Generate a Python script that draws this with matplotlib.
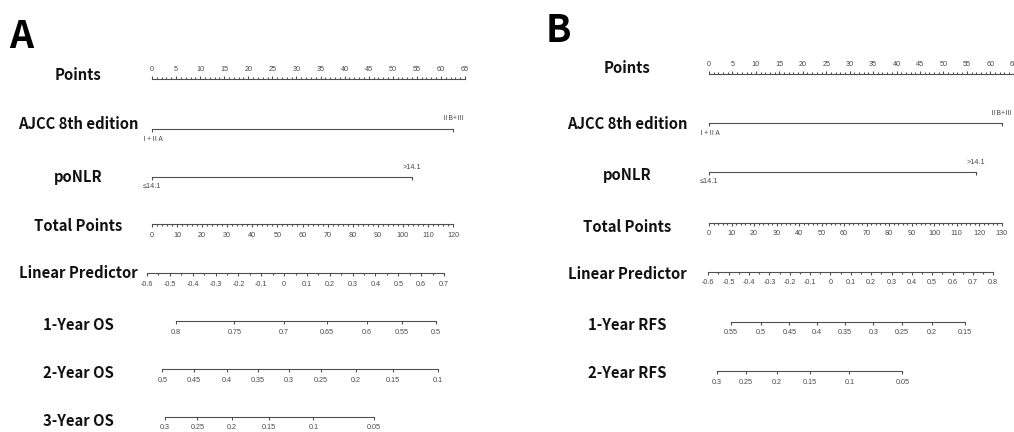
import matplotlib
matplotlib.use("Agg")
import matplotlib.pyplot as plt
import matplotlib.transforms as mtransforms
import numpy as np

# ---------------- data ----------------
# Panel A (OS nomogram)
a_row_titles = ["Points", "AJCC 8th edition", "poNLR", "Total Points",
                "Linear Predictor", "1-Year OS", "2-Year OS", "3-Year OS"]
a_points_ticks = list(range(0, 66, 5))
a_ajcc_points = [0, 62.5]
a_ajcc_labels = ["Ⅰ+ⅡA", "ⅡB+Ⅲ"]
a_nlr_points = [0, 54.0]
a_nlr_labels = ["≤14.1", ">14.1"]
a_total_ticks = list(range(0, 121, 10))
a_lp_ticks = [-0.6, -0.5, -0.4, -0.3, -0.2, -0.1, 0, 0.1, 0.2, 0.3, 0.4, 0.5, 0.6, 0.7]
a_os1_labels = ["0.8", "0.75", "0.7", "0.65", "0.6", "0.55", "0.5"]
a_os1_lp = [-0.473, -0.218, 0.000, 0.189, 0.362, 0.517, 0.666]
a_os2_labels = ["0.5", "0.45", "0.4", "0.35", "0.3", "0.25", "0.2", "0.15", "0.1"]
a_os2_lp = [-0.533, -0.393, -0.251, -0.115, 0.022, 0.162, 0.313, 0.478, 0.672]
a_os3_labels = ["0.3", "0.25", "0.2", "0.15", "0.1", "0.05"]
a_os3_lp = [-0.521, -0.380, -0.229, -0.065, 0.128, 0.394]

# Panel B (RFS nomogram)
b_row_titles = ["Points", "AJCC 8th edition", "poNLR", "Total Points",
                "Linear Predictor", "1-Year RFS", "2-Year RFS"]
b_points_ticks = list(range(0, 66, 5))
b_ajcc_points = [0, 62.4]
b_ajcc_labels = ["Ⅰ+ⅡA", "ⅡB+Ⅲ"]
b_nlr_points = [0, 56.9]
b_nlr_labels = ["≤14.1", ">14.1"]
b_total_ticks = list(range(0, 131, 10))
b_lp_ticks = [-0.6, -0.5, -0.4, -0.3, -0.2, -0.1, 0, 0.1, 0.2, 0.3, 0.4, 0.5, 0.6, 0.7, 0.8]
b_rfs1_labels = ["0.55", "0.5", "0.45", "0.4", "0.35", "0.3", "0.25", "0.2", "0.15"]
b_rfs1_lp = [-0.489, -0.343, -0.202, -0.065, 0.072, 0.211, 0.350, 0.500, 0.662]
b_rfs2_labels = ["0.3", "0.25", "0.2", "0.15", "0.1", "0.05"]
b_rfs2_lp = [-0.559, -0.415, -0.264, -0.100, 0.093, 0.353]

# ---------------- style ----------------
W, H = 1014, 432
LC = "#505050"
TC = "#484848"
LW = 0.8
TS = 5.2
TICK_FONT = ["Liberation Sans Narrow", "Liberation Sans", "Noto Sans CJK SC", "DejaVu Sans"]
ROMAN_FONT = ["Noto Sans CJK SC", "DejaVu Sans"]
TITLE_FONT = ["Noto Sans CJK SC", "DejaVu Sans"]

fig = plt.figure(figsize=(W / 100, H / 100), dpi=100)
fig.patch.set_facecolor("white")


def fmt(v):
    s = f"{v:.2f}".rstrip("0").rstrip(".")
    return "0" if s in ("-0", "") else s


def row_axes(x0, x1, y, lim, side="bottom"):
    ax = fig.add_axes([x0 / W, 1 - y / H, (x1 - x0) / W, 1e-5])
    ax.set_xlim(lim)
    ax.set_ylim(0, 1)
    ax.patch.set_visible(False)
    for s in ax.spines.values():
        s.set_visible(False)
    sp = ax.spines[side]
    sp.set_visible(True)
    sp.set_color(LC)
    sp.set_linewidth(LW)
    ax.xaxis.set_ticks_position(side)
    ax.xaxis.set_label_position(side)
    ax.set_yticks([])
    pad = 2.0 if side == "top" else 3.2
    ax.tick_params(axis="x", which="major", direction="out", length=2.4, width=LW,
                   color=LC, labelsize=TS, labelcolor=TC, pad=pad)
    ax.tick_params(axis="x", which="minor", direction="out", length=1.2, width=LW,
                   color=LC)
    return ax


def set_ticks(ax, vals, labels, minor=None):
    ax.set_xticks(vals)
    ax.set_xticklabels(labels, family=TICK_FONT)
    if minor is not None:
        ax.set_xticks(minor, minor=True)


def categorical(ax, vals, labels, off=7.5, family=TICK_FONT):
    ax.spines["bottom"].set_bounds(min(vals), max(vals))
    ax.set_xticks(vals)
    ax.set_xticklabels([""] * len(vals))
    tr = ax.get_xaxis_transform()
    lo = mtransforms.offset_copy(tr, fig=fig, x=0, y=-off, units="points")
    hi = mtransforms.offset_copy(tr, fig=fig, x=0, y=off, units="points")
    ax.text(vals[0], 0, labels[0], transform=lo, ha="center", va="center",
            fontsize=TS, color=TC, family=family)
    ax.text(vals[1], 0, labels[1], transform=hi, ha="center", va="center",
            fontsize=TS, color=TC, family=family)


def survival(ax, lps, labels):
    ax.spines["bottom"].set_bounds(min(lps), max(lps))
    set_ticks(ax, lps, labels)


def titles(xc, ys, names):
    for yy, name in zip(ys, names):
        fig.text(xc / W, 1 - yy / H, name, ha="center", va="center",
                 fontsize=10.7, fontweight="bold", family=TITLE_FONT, color="#111111")


# ---------------- panel A ----------------
fig.text(9 / W, 1 - 36 / H, "A", ha="left", va="center", fontsize=27,
         fontweight="bold", family=TITLE_FONT, color="black")
titles(78, [75, 124, 177, 226, 273, 325, 373, 421], a_row_titles)

ax = row_axes(152, 465, 79.5, (0, 65), side="top")
set_ticks(ax, a_points_ticks, [str(v) for v in a_points_ticks], minor=np.arange(0, 66, 1))

ax = row_axes(152, 465, 128.5, (0, 65))
categorical(ax, a_ajcc_points, a_ajcc_labels, family=ROMAN_FONT)
ax = row_axes(152, 465, 177, (0, 65))
categorical(ax, a_nlr_points, a_nlr_labels, off=7.0)

ax = row_axes(152, 453, 224, (0, 120))
set_ticks(ax, a_total_ticks, [str(v) for v in a_total_ticks], minor=np.arange(0, 121, 2))

a_lp_lim = (a_lp_ticks[0], a_lp_ticks[-1])
ax = row_axes(147, 444, 273, a_lp_lim)
set_ticks(ax, a_lp_ticks, [fmt(v) for v in a_lp_ticks], minor=np.arange(-0.6, 0.7001, 0.05))

ax = row_axes(147, 444, 321, a_lp_lim)
survival(ax, a_os1_lp, a_os1_labels)
ax = row_axes(147, 444, 369, a_lp_lim)
survival(ax, a_os2_lp, a_os2_labels)
ax = row_axes(147, 444, 416.5, a_lp_lim)
survival(ax, a_os3_lp, a_os3_labels)

# ---------------- panel B ----------------
fig.text(546 / W, 1 - 30 / H, "B", ha="left", va="center", fontsize=27,
         fontweight="bold", family=TITLE_FONT, color="black")
titles(627, [68, 124, 175, 227, 274, 325, 373], b_row_titles)

ax = row_axes(709, 1013.7, 74, (0, 65), side="top")
set_ticks(ax, b_points_ticks, [str(v) for v in b_points_ticks], minor=np.arange(0, 66, 1))

ax = row_axes(709, 1013.7, 123, (0, 65))
categorical(ax, b_ajcc_points, b_ajcc_labels, off=7.5, family=ROMAN_FONT)
ax = row_axes(709, 1013.7, 172, (0, 65))
categorical(ax, b_nlr_points, b_nlr_labels, off=7.0)

ax = row_axes(709, 1001.7, 222.7, (0, 130))
set_ticks(ax, b_total_ticks, [str(v) for v in b_total_ticks], minor=np.arange(0, 131, 2))

b_lp_lim = (b_lp_ticks[0], b_lp_ticks[-1])
ax = row_axes(708.3, 993.3, 271.7, b_lp_lim)
set_ticks(ax, b_lp_ticks, [fmt(v) for v in b_lp_ticks], minor=np.arange(-0.6, 0.8001, 0.05))

ax = row_axes(708.3, 993.3, 321.7, b_lp_lim)
survival(ax, b_rfs1_lp, b_rfs1_labels)
ax = row_axes(708.3, 993.3, 371, b_lp_lim)
survival(ax, b_rfs2_lp, b_rfs2_labels)

fig.savefig("out.png", dpi=100, facecolor="white")
